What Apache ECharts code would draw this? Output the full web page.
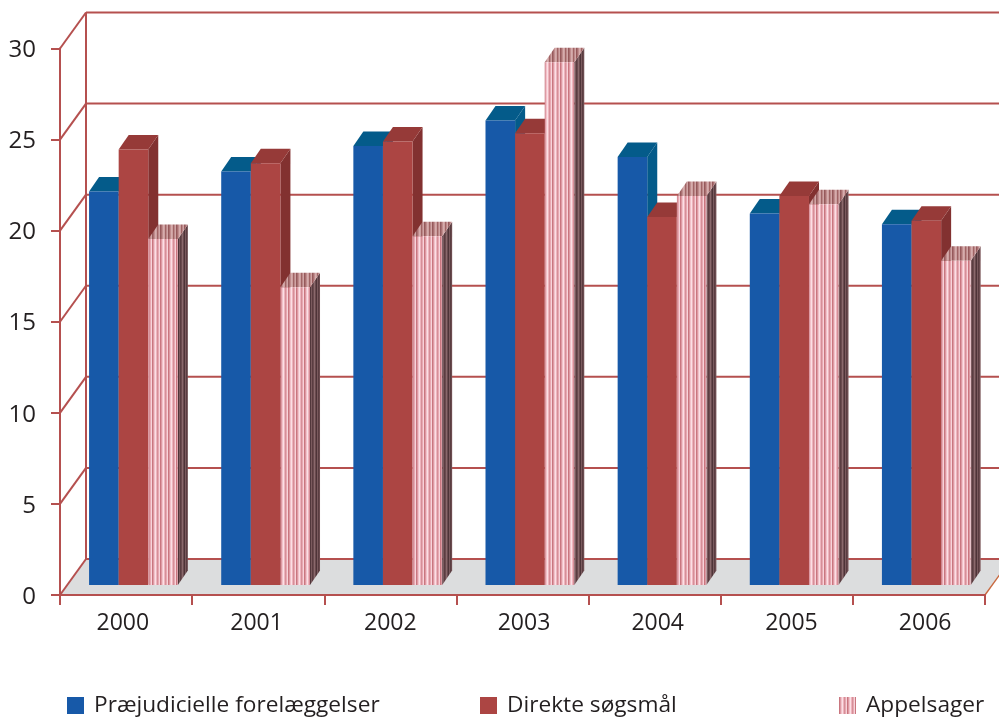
<!DOCTYPE html>
<html><head><meta charset="utf-8">
<style>html,body{margin:0;padding:0;background:#fff;overflow:hidden}#c{width:999px;height:717px}</style>
<script src="https://cdn.jsdelivr.net/npm/echarts@6/dist/echarts.min.js"></script>
</head><body><div id="c"></div>
<script>
const years = ['2000','2001','2002','2003','2004','2005','2006'];
const prejudicial = [21.6,22.7,24.1,25.5,23.5,20.4,19.8];
const direct = [23.9,23.15,24.35,24.8,20.2,21.35,20.0];
const appeals = [19.0,16.35,19.15,28.7,21.35,20.9,17.8];
const yTicks = [0,5,10,15,20,25,30];
const seriesNames = ['Præjudicielle forelæggelser','Direkte søgsmål','Appelsager'];

const RED='#b5504f', TXT='#231f20';
const WALL_DX=26, WALL_DY=36, BAR_DX=10, BAR_DY=14.5, LIFT=10, BAR_W=29.6, GROUP_OFF=-37;

function stripes(cols){
  const c=document.createElement('canvas');c.width=cols.length;c.height=4;
  const g=c.getContext('2d');
  cols.forEach((k,i)=>{g.fillStyle=k;g.fillRect(i,0,1,4);});
  return {image:c,repeat:'repeat'};
}
const pFront=stripes(['#c9767f','#dd9aa3','#f2c2ca','#fbdfe5','#eeb4bd','#d58f98','#e8a9b2','#f7d3da']);
const pTop=stripes(['#96595b','#a87071','#c08c8d','#d6acac','#cca0a0','#a06465','#bc8889','#d0a5a5']);
const pSide=stripes(['#5a3d41','#6b4b4f','#8a696c','#6b4b4f','#4e3438','#7b5a5e']);

const styles=[
 {front:'#1759a8',top:'#045b8a',side:'#045b8a'},
 {front:'#ac4543',top:'#963a38',side:'#823130'},
 {front:pFront,top:pTop,side:pSide}
];

function barRenderer(k){
  return function(params,api){
    const p=api.coord([api.value(0),api.value(1)]);
    const base=api.coord([api.value(0),0]);
    const x0=p[0]+GROUP_OFF+k*BAR_W, y0=p[1]-LIFT, yb=base[1]-LIFT, x1=x0+BAR_W;
    const s=styles[k];
    return {type:'group',children:[
      {type:'polygon',shape:{points:[[x1,y0],[x1+BAR_DX,y0-BAR_DY],[x1+BAR_DX,yb-BAR_DY],[x1,yb]]},style:{fill:s.side}},
      {type:'polygon',shape:{points:[[x0,y0],[x1,y0],[x1+BAR_DX,y0-BAR_DY],[x0+BAR_DX,y0-BAR_DY]]},style:{fill:s.top}},
      {type:'rect',shape:{x:x0,y:y0,width:BAR_W,height:yb-y0},style:{fill:s.front}}
    ]};
  };
}

function wallRenderer(params,api){
  const v=api.value(0);
  const a=api.coord([0,v]);
  const band=api.size([1,0])[0];
  const x0=a[0]-band/2, y=a[1];
  const xEnd=x0+band*years.length;
  const line={stroke:RED,lineWidth:2,fill:null};
  const kids=[
    {type:'line',shape:{x1:x0,y1:y,x2:x0+WALL_DX,y2:y-WALL_DY},style:line},
    {type:'line',shape:{x1:x0+WALL_DX,y1:y-WALL_DY,x2:xEnd+WALL_DX,y2:y-WALL_DY},style:line}
  ];
  if(v===0){
    kids.unshift({type:'polygon',shape:{points:[[x0,y],[xEnd,y],[xEnd+WALL_DX,y-WALL_DY],[x0+WALL_DX,y-WALL_DY]]},style:{fill:'#dcddde'}});
    kids.push({type:'line',shape:{x1:xEnd,y1:y,x2:xEnd+WALL_DX,y2:y-WALL_DY},style:{stroke:'#c8693f',lineWidth:1.4}});
    const top=api.coord([0,yTicks[yTicks.length-1]])[1];
    kids.push({type:'line',shape:{x1:x0+WALL_DX,y1:y-WALL_DY,x2:x0+WALL_DX,y2:top-WALL_DY},style:line});
  }
  return {type:'group',children:kids};
}

function legendOf(name,left){
  return {data:[{name:name,icon:'rect'}],left:left,top:694,itemWidth:17,itemHeight:17,itemGap:10,padding:0,
    selectedMode:false,textStyle:{fontFamily:'Open Sans',fontSize:22.7,color:TXT,padding:[5,0,0,5]}};
}

const chart=echarts.init(document.getElementById('c'),null,{renderer:'canvas'});
chart.setOption({
  animation:false,backgroundColor:'#fff',
  grid:[
    {left:60,right:14,top:48.5,bottom:122,containLabel:false},
    {left:56,right:7,top:50,bottom:120,containLabel:false}
  ],
  legend:[legendOf(seriesNames[0],67),legendOf(seriesNames[1],480),legendOf(seriesNames[2],839)],
  xAxis:[
    {type:'category',data:years,z:5,gridIndex:0,
      axisLine:{lineStyle:{color:RED,width:2}},
      axisTick:{show:true,alignWithLabel:false,length:10,lineStyle:{color:RED,width:2}},
      axisLabel:{show:false},
      splitLine:{show:false}},
    {type:'category',data:years,gridIndex:1,
      axisLine:{show:false},axisTick:{show:false},splitLine:{show:false},
      axisLabel:{fontFamily:'Open Sans',fontSize:23,color:TXT,margin:15,interval:0}}
  ],
  yAxis:[
    {type:'value',min:0,max:30,interval:5,gridIndex:0,
      axisLine:{show:true,lineStyle:{color:RED,width:2}},
      axisTick:{show:true,length:9,lineStyle:{color:RED,width:2}},
      axisLabel:{show:false},
      splitLine:{show:false}},
    {type:'value',min:0,max:30,interval:5,gridIndex:1,
      axisLine:{show:false},axisTick:{show:false},splitLine:{show:false},
      axisLabel:{fontFamily:'Open Sans',fontSize:24,color:TXT,margin:20}}
  ],
  series:[
    {type:'custom',name:'wall',silent:true,z:1,clip:false,renderItem:wallRenderer,
     encode:{y:0},data:yTicks.map(v=>[v])},
    {type:'custom',name:seriesNames[0],z:2,clip:false,renderItem:barRenderer(0),itemStyle:{color:styles[0].front},
     encode:{x:0,y:1},data:prejudicial.map((v,i)=>[i,v])},
    {type:'custom',name:seriesNames[1],z:3,clip:false,renderItem:barRenderer(1),itemStyle:{color:styles[1].front},
     encode:{x:0,y:1},data:direct.map((v,i)=>[i,v])},
    {type:'custom',name:seriesNames[2],z:4,clip:false,renderItem:barRenderer(2),itemStyle:{color:pFront},
     encode:{x:0,y:1},data:appeals.map((v,i)=>[i,v])}
  ]
});
</script></body></html>
